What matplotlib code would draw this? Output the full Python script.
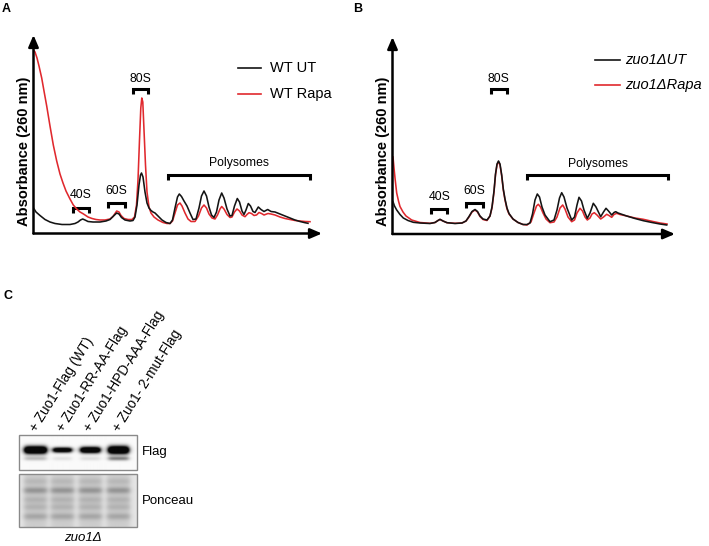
import numpy as np
import matplotlib
matplotlib.use("Agg")
import matplotlib.pyplot as plt
from matplotlib.patches import Rectangle

plt.rcParams['font.family'] = ['Liberation Sans', 'DejaVu Sans']

W, H = 709, 546  # output size in px, dpi 100

RED = "#e0292e"
BLACK = "#141414"

# ---- panel A traces: (gradient position, A260), both in px from axis origin
a_wt_ut = np.array([
    (0, 25.5), (2.5, 21.5), (6.5, 18), (11.5, 14), (16.5, 11.5), (21.5, 10), (28.5, 9),
    (36.5, 9), (41.5, 10), (44.5, 11.5), (47, 13.5), (49.2, 14.5), (51.5, 13.5), (54.5, 12),
    (59.5, 11.5), (66.5, 11.5), (72.5, 12.5), (76.5, 14), (79.5, 17), (83.2, 20.5),
    (85.5, 19.5), (88, 16), (91.5, 13.5), (96.5, 12.5), (99.5, 13), (101.5, 16.5),
    (103.5, 28.5), (105.5, 48.5), (107, 58.5), (108, 60.5), (109.5, 56.5), (111.5, 41.5),
    (113.5, 30.5), (115.5, 25.5), (117.5, 23), (119.5, 21.5), (121.5, 20.5), (124.5, 17.5),
    (128.5, 13.5), (132.5, 11), (136.5, 10), (139, 13.5), (141.5, 25.5), (144, 36.5),
    (145.8, 39.5), (148, 37), (150.5, 32.5), (153.5, 27.5), (156.5, 20.5), (159.5, 14),
    (162.5, 14.5), (165.5, 25.5), (168, 37.5), (170.5, 42.5), (173, 37.5), (175.5, 26.5),
    (178, 18.5), (180.5, 16), (183, 21.5), (185.5, 33.5), (188.2, 40.5), (190.5, 35.5),
    (193.5, 24.5), (196.5, 17.5), (198.5, 18), (201, 27.5), (203.8, 35), (206, 31.5),
    (208.5, 22.5), (210.5, 19), (212.5, 23.5), (214.8, 30), (217, 27.5), (219.5, 22),
    (221.5, 21), (224.8, 26.5), (227.5, 24), (230.5, 22), (234.2, 24), (237.5, 22),
    (241.5, 21.5), (246.5, 19.5), (251.5, 17.5), (256.5, 15.5), (261.5, 13.5),
    (266.5, 12), (271.5, 10.8), (274.5, 10.2),
])
a_wt_rapa = np.array([
    (0, 183.5), (1.5, 181.5), (3.5, 175.5), (5.5, 167.5), (8.2, 155.5), (10.5, 142.5),
    (13.2, 127.5), (16.5, 107.5), (19.8, 88.5), (23.2, 72.5), (26.5, 59.5), (29.5, 50.5),
    (32.5, 42.5), (36.5, 34.5), (39.8, 28.5), (43.2, 24.5), (46.5, 21.5), (49.2, 20),
    (51.5, 18.5), (54.5, 16.5), (58.5, 15), (62.5, 14), (66.5, 13.5), (71.5, 13.5),
    (76.5, 14.5), (79.5, 17), (83.2, 22.5), (85.5, 21.5), (87.5, 18), (90.5, 15),
    (94.5, 14), (98.5, 14), (101, 16.5), (103, 28.5), (104.5, 53.5), (106, 93.5),
    (107.3, 125.5), (108.3, 135.5), (109.3, 131.5), (110.5, 103.5), (112, 68.5),
    (113.5, 41.5), (115.5, 26.5), (117.5, 20.5), (120.5, 16.5), (124.5, 13.5), (129.5, 11),
    (133.5, 10), (136.5, 10), (139, 12.5), (141.5, 20.5), (144, 28.5), (146.5, 30.5),
    (148.5, 27.5), (151.5, 20.5), (154.5, 14.5), (157.5, 12), (161.5, 12), (165, 17.5),
    (168, 25.5), (170.5, 28.5), (173, 25.5), (175.5, 19.5), (178.5, 15.5), (181.5, 14.5),
    (184, 18.5), (186.5, 24.5), (188.2, 27), (190.5, 24.5), (193.5, 19), (196.5, 16),
    (198.5, 16.5), (201, 21.5), (203.5, 24.5), (206, 22.5), (208.5, 18.5), (211.5, 16.8),
    (213.5, 19), (215.5, 20.8), (218, 20), (220.5, 18), (223, 18.5), (225.5, 21),
    (228, 20), (230.5, 18.5), (234.5, 20), (237.5, 19.5), (241.5, 18.5), (246.5, 16.5),
    (251.5, 15), (256.5, 14), (261.5, 13), (266.5, 12.5), (271.5, 12), (276.5, 11.8),
])

# ---- panel B traces
b_zuo_ut = np.array([
    (0.5, 32.3), (2, 28), (4.2, 24), (7.5, 19.5), (10.8, 16), (15.5, 13.5), (20.8, 11.7),
    (27.5, 11), (37.5, 10.5), (42.5, 11.5), (45.5, 13.5), (47.5, 14.7), (50.5, 13),
    (54.5, 11.3), (62.5, 10.5), (69.5, 11), (73.5, 13), (76.5, 17.5), (79.5, 22.5),
    (82.5, 24.5), (85, 22.5), (87.5, 18), (90.5, 15), (94.5, 14), (97.5, 18), (99.5, 27),
    (101.5, 43), (103, 60), (104.5, 70), (106, 73), (107.5, 70), (109.2, 59), (110.8, 45),
    (112.5, 35), (114.5, 26), (116.5, 20.5), (120.5, 15), (125.5, 11.5), (130.5, 9.5),
    (134.5, 9.5), (137.5, 11), (140, 20), (142.5, 34), (144.8, 40), (147, 37), (149.5, 27),
    (152.5, 19), (157.5, 12.3), (161.5, 14), (164.5, 24), (167, 36), (169.2, 41.3),
    (171.5, 37), (174.5, 26), (179.2, 14), (182, 17), (184.5, 29), (186.5, 36.7), (189, 33),
    (191.5, 24), (194.8, 15.7), (197.5, 21), (200.8, 30.7), (203.5, 27), (208.2, 17.3),
    (211, 22), (213.5, 25.7), (216, 23), (219.2, 19), (221.5, 21.5), (223.2, 22.3),
    (225.5, 21), (234.2, 18), (242.5, 15.5), (250.8, 13.3), (259.5, 11.5), (267.5, 10),
    (274.2, 9),
])
b_zuo_rapa = np.array([
    (0.5, 77), (1.5, 66), (2.5, 56), (4.2, 41), (6, 33), (7.5, 27.5), (10.5, 22), (13.5, 18),
    (19.2, 14), (27.5, 11.5), (37.5, 10.7), (42.5, 11.5), (45.5, 13.5), (47.5, 14.5),
    (50.5, 13), (54.5, 11.3), (62.5, 10.7), (69.5, 11), (73.5, 13), (76.5, 17), (79.5, 22),
    (82.5, 24), (85, 22), (87.5, 17.5), (90.5, 14.5), (94.5, 13.5), (97.5, 18), (99.5, 26),
    (101.5, 42), (103, 59), (104.5, 69), (106, 72.3), (107.5, 69), (109.2, 58), (110.8, 44),
    (112.5, 34), (114.5, 25), (116.5, 20), (120.5, 15), (125.5, 11.5), (130.5, 9.5),
    (134.5, 9), (138.5, 12), (141.5, 21), (144, 28), (145.8, 29.7), (148, 27), (150.5, 21),
    (153.5, 15), (157.5, 11.3), (161.5, 12), (164.5, 17), (167.5, 26), (170.2, 29),
    (172.5, 25), (175.5, 17), (179.2, 12.3), (182, 14), (184.5, 21), (187.5, 25.7),
    (190, 23), (192.5, 17), (194.8, 14), (197.5, 16), (199.5, 20), (201.8, 21.3), (204.5, 19),
    (208.2, 15), (211, 17), (214.2, 19.7), (216.5, 18.5), (219.2, 16.7), (221.5, 19.5),
    (224.2, 20.7), (227.5, 19.5), (234.2, 18), (242.5, 16), (250.8, 14.7), (259.5, 12.7),
    (267.5, 11), (274.5, 10),
])

a_labels = ["WT UT", "WT Rapa"]
b_labels = ["zuo1ΔUT", "zuo1ΔRapa"]
fraction_labels = ["40S", "60S", "80S", "Polysomes"]

# ---- panel C: western blot
lane_labels = ["+ Zuo1-Flag (WT)", "+ Zuo1-RR-AA-Flag", "+ Zuo1-HPD-AAA-Flag", "+ Zuo1- 2-mut-Flag"]
flag_main = [1.0, 0.8, 0.9, 1.0]
flag_main_sigma = [2.7, 1.8, 2.2, 2.8]
flag_lower = [0.25, 0.1, 0.12, 0.5]
ponceau_rows = [7.4, 16.4, 25.7, 33.0, 42.4]
ponceau_dark = [0.08, 0.22, 0.1, 0.1, 0.15]

fig = plt.figure(figsize=(W / 100, H / 100), dpi=100)
ov = fig.add_axes([0, 0, 1, 1])
ov.axis('off')


def trace_axes(x0, y0, w, h):
    ax = fig.add_axes([x0 / W, 1 - y0 / H, w / W, h / H])
    ax.set_xlim(0, w)
    ax.set_ylim(0, h)
    ax.axis('off')
    arrow = dict(arrowstyle='-|>,head_length=0.7,head_width=0.3', lw=1.8, color='k',
                 shrinkA=0, shrinkB=0)
    ax.annotate('', xy=(0, 1), xytext=(0, 0), xycoords='axes fraction', arrowprops=arrow)
    ax.annotate('', xy=(1, 0), xytext=(0, 0), xycoords='axes fraction', arrowprops=arrow)
    return ax


def bracket(x0, x1, y, tick=5):
    ov.plot([x0, x0, x1, x1], [y + tick, y, y, y + tick], color='k', lw=2.2,
            solid_joinstyle='miter', solid_capstyle='butt')


line_kw = dict(lw=1.15, solid_joinstyle='round')

# panel A
axA = trace_axes(33.5, 233.5, 288.5, 198.5)
axA.plot(a_wt_ut[:, 0], a_wt_ut[:, 1], color=BLACK, zorder=3, **line_kw)
axA.plot(a_wt_rapa[:, 0], a_wt_rapa[:, 1], color=RED, zorder=2, **line_kw)

# panel B
axB = trace_axes(392.5, 234, 282.5, 197)
axB.plot(b_zuo_ut[:, 0], b_zuo_ut[:, 1], color=BLACK, zorder=3, **line_kw)
axB.plot(b_zuo_rapa[:, 0], b_zuo_rapa[:, 1], color=RED, zorder=2, **line_kw)

for lab, x, y in [("A", 2, 9), ("B", 353, 9), ("C", 4, 296)]:
    ov.text(x, y, lab, fontsize=9, fontweight='bold', ha='left', va='center')

for x in [24, 382.5]:
    ov.text(x, 151, "Absorbance (260 nm)", rotation=90, fontsize=10.5, fontweight='bold',
            ha='center', va='center')

# legends
for (lab, c, y) in zip(a_labels, [BLACK, RED], [68.3, 94]):
    ov.plot([238, 261], [y, y], color=c, lw=1.2)
    ov.text(270, y, lab, fontsize=10.5, ha='left', va='center')
for (lab, c, y) in zip(b_labels, [BLACK, RED], [60, 85]):
    ov.plot([595, 620], [y, y], color=c, lw=1.2)
    ov.text(625, y, lab, fontsize=10.5, style='italic', ha='left', va='center')

# fraction brackets: (text x, text y, x0, x1, bracket y)
marks_A = [(80.7, 195, 72.7, 89.3, 208.3), (116.5, 191.5, 108.3, 125, 203.3),
           (140.7, 79, 132.7, 148.3, 89.3), (239.3, 163.3, 168.3, 310, 175)]
marks_B = [(439.3, 197.5, 431, 447.3, 208.5), (474.5, 191.5, 466, 482.5, 203.3),
           (498.5, 79.5, 490.7, 506.7, 89.3), (598.3, 163.5, 526.7, 668.3, 175)]
for marks in [marks_A, marks_B]:
    for lab, (tx, ty, x0, x1, by) in zip(fraction_labels, marks):
        ov.text(tx, ty, lab, fontsize=8.8, ha='center', va='center')
        bracket(x0, x1, by)

# ---- blot rendering
box_x0, box_x1 = 19.3, 136.7
lane_cx = [35.8, 62.5, 90.3, 118.3]
lane_half = [10.8, 9.2, 9.7, 10.0]


def lane_mask(xx, cx, half, soft=0.9):
    return 1.0 / (1.0 + np.exp((np.abs(xx - cx) - half) / soft))


fy0, fy1 = 435, 470
fh, fw = 70, 235
yy, xx = np.mgrid[0:fh, 0:fw] + 0.5
yy = fy0 + yy * (fy1 - fy0) / fh
xx = box_x0 + xx * (box_x1 - box_x0) / fw
dark = np.zeros_like(xx)
for i, cx in enumerate(lane_cx):
    m = lane_mask(xx, cx, lane_half[i], soft=1.4)
    band = 1.9 * flag_main[i] * np.exp(-0.5 * ((yy - 450) / flag_main_sigma[i]) ** 2)
    band += flag_lower[i] * np.exp(-0.5 * ((yy - 458.5) / 1.5) ** 2)
    dark += m * band
flag_img = 0.98 - 0.95 * np.clip(dark, 0, 1)
ov.imshow(flag_img, cmap='gray', vmin=0, vmax=1, extent=(box_x0, box_x1, fy1, fy0),
          aspect='auto', interpolation='bilinear')
ov.add_patch(Rectangle((box_x0, fy0), box_x1 - box_x0, fy1 - fy0, fill=False,
                       edgecolor='#8a8a8a', lw=1))

py0, py1 = 474.3, 527.3
ph, pw = 106, 235
yy, xx = np.mgrid[0:ph, 0:pw] + 0.5
yy = py0 + yy * (py1 - py0) / ph
xx = box_x0 + xx * (box_x1 - box_x0) / pw
dark = np.full_like(xx, 0.1)
for i, cx in enumerate(lane_cx):
    m = lane_mask(xx, cx, 11.5, soft=1.5)
    lane = 0.1 + sum(d * np.exp(-0.5 * ((yy - (py0 + r)) / 2.4) ** 2)
                     for r, d in zip(ponceau_rows, ponceau_dark))
    dark += m * lane
pon_img = 1.0 - np.clip(dark, 0, 1)
ov.imshow(pon_img, cmap='gray', vmin=0, vmax=1, extent=(box_x0, box_x1, py1, py0),
          aspect='auto', interpolation='bilinear')
ov.add_patch(Rectangle((box_x0, py0), box_x1 - box_x0, py1 - py0, fill=False,
                       edgecolor='#8a8a8a', lw=1))

for lab, cx in zip(lane_labels, [35, 61.7, 89.3, 118.3]):
    ov.text(cx + 1.6, 432, lab, rotation=58, rotation_mode='anchor', fontsize=9.8,
            ha='left', va='baseline')

ov.text(141.5, 452.5, "Flag", fontsize=9.5, ha='left', va='center')
ov.text(141.5, 501, "Ponceau", fontsize=9.5, ha='left', va='center')
ov.text(83.3, 538.3, "zuo1Δ", fontsize=9.5, style='italic', ha='center', va='center')

ov.set_xlim(0, W)
ov.set_ylim(H, 0)

fig.savefig("out.png", dpi=100)
